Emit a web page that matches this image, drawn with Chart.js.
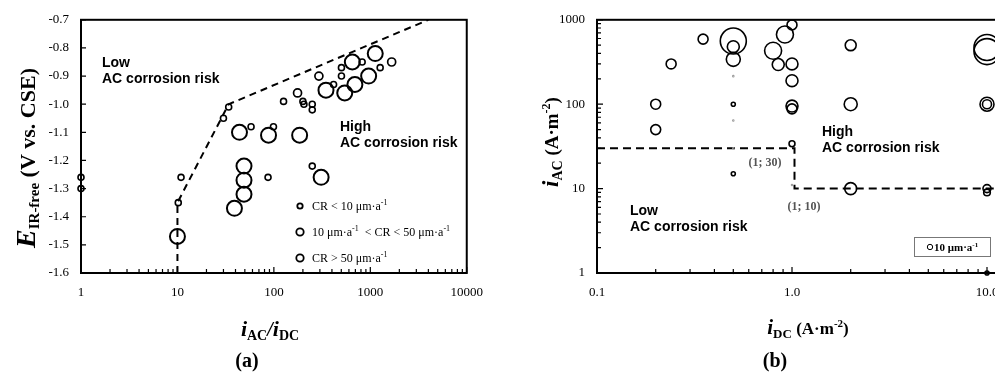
<!DOCTYPE html>
<html>
<head>
<meta charset="utf-8">
<script src="https://cdn.jsdelivr.net/npm/chart.js@4.4.1/dist/chart.umd.min.js"></script>
<style>
  html, body { margin: 0; padding: 0; background: #fff; overflow: hidden; }
  body { width: 995px; height: 379px; position: relative; }
  #left { position: absolute; left: 0; top: 0; }
  #right { position: absolute; left: 495px; top: 0; }
</style>
</head>
<body>
<canvas id="left" width="495" height="379"></canvas>
<canvas id="right" width="720" height="379"></canvas>
<script>
// (a) IR-free potential vs iAC/iDC ratio, split by corrosion rate class
const ratioLow = [1, 1, 10.9, 10.2, 30, 34, 58, 99, 87, 126, 200, 205, 250, 250, 250, 416, 502, 502, 823, 1265];
const potLow = [-1.26, -1.30, -1.26, -1.35, -1.05, -1.01, -1.08, -1.08, -1.26, -0.99, -0.99, -1.00, -1.00, -1.02, -1.22, -0.93, -0.87, -0.90, -0.85, -0.87];
const ratioMid = [176, 293, 1665];
const potMid = [-0.96, -0.90, -0.85];
const ratioHigh = [10, 39, 44, 49, 49, 49, 88, 185, 309, 347, 543, 651, 692, 961, 1125];
const potHigh = [-1.47, -1.37, -1.10, -1.22, -1.27, -1.32, -1.11, -1.11, -1.26, -0.95, -0.96, -0.85, -0.93, -0.90, -0.82];
const limitRatio = [10, 10, 34, 4000];
const limitPot = [-1.6, -1.35, -1.0, -0.7];
const ratioTicks = [1, 10, 100, 1000, 10000];
const potTicks = [-0.7, -0.8, -0.9, -1.0, -1.1, -1.2, -1.3, -1.4, -1.5, -1.6];

// (b) iAC vs iDC, bubble size from corrosion rate (um/a)
const dcCurrent = [0.24, 0.35, 0.2, 0.2, 0.5, 0.5, 0.5, 0.5, 0.5, 0.5, 0.5, 0.5, 0.5, 0.8, 0.85, 0.92, 1.0, 1.0, 1.0, 1.0, 1.0, 1.0, 1.0, 2.0, 2.0, 2.0, 10, 10, 10, 10, 10, 10, 10];
const acCurrent = [300, 590, 100, 50, 560, 480, 340, 215, 100, 64, 30, 15, 1, 430, 295, 670, 870, 300, 190, 95, 88, 34, 11, 500, 100, 10, 470, 420, 100, 100, 10, 9, 1];
const corrRate = [34, 34, 34, 34, 232, 49, 67, 0.3, 5.5, 0.3, 0.3, 5.5, 0.3, 99, 49, 99, 34, 49, 49, 49, 34, 12, 0.3, 41, 58, 49, 232, 232, 67, 28, 22, 15, 5.5];
const limitDc = [0.1, 1.03, 1.03, 100];
const limitAc = [30, 30, 10, 10];
const dcTicks = [0.1, 1, 10, 100];
const acTicks = [1, 10, 100, 1000];

const SERIF = "'Liberation Serif', 'Times New Roman', serif";
const SANS = "'Liberation Sans', Arial, sans-serif";

function crToRadius(cr) {
    return 2.7 * Math.sqrt(cr / 10);
}

function pts(xs, ys) {
    return xs.map((x, i) => ({ x: x, y: ys[i] }));
}

// draw a run of text pieces (sub/superscripts via dy), centred or left aligned
function rich(ctx, parts, x, y, opts) {
    opts = opts || {};
    ctx.save();
    ctx.translate(x, y);
    if (opts.rotate) ctx.rotate(-Math.PI / 2);
    ctx.textBaseline = 'alphabetic';
    ctx.textAlign = 'left';
    ctx.fillStyle = opts.color || '#000';
    let w = 0;
    parts.forEach(p => { ctx.font = p.f; w += ctx.measureText(p.t).width; });
    let px = opts.left ? 0 : -w / 2;
    parts.forEach(p => {
        ctx.font = p.f;
        ctx.fillText(p.t, px, p.dy || 0);
        px += ctx.measureText(p.t).width;
    });
    ctx.restore();
}

function logMinor(scale, cb) {
    let d = Math.pow(10, Math.floor(Math.log10(scale.min)));
    for (; d < scale.max; d *= 10) {
        for (let k = 2; k <= 9; k++) {
            const v = k * d;
            if (v > scale.min && v < scale.max) cb(scale.getPixelForValue(v));
        }
    }
}

function logScale(min, max, tickVals, fmt, extra) {
    return Object.assign({
        type: 'logarithmic',
        min: min,
        max: max,
        grid: { display: false, drawTicks: false },
        border: { display: false },
        afterBuildTicks: s => { s.ticks = tickVals.map(v => ({ value: v })); },
        ticks: {
            autoSkip: false, maxRotation: 0, padding: 12, color: '#000',
            font: { family: SERIF, size: 13 },
            callback: fmt
        }
    }, extra || {});
}

// ---------- panel (a) ----------
const leftDecor = {
    id: 'leftDecor',
    afterDraw(chart) {
        const ctx = chart.ctx, a = chart.chartArea, xs = chart.scales.x, ys = chart.scales.y;
        ctx.save();
        ctx.strokeStyle = '#000';
        ctx.lineWidth = 1.2;
        ctx.beginPath();
        logMinor(xs, px => { ctx.moveTo(px, a.bottom); ctx.lineTo(px, a.bottom - 4); });
        ratioTicks.forEach(v => { const px = xs.getPixelForValue(v); ctx.moveTo(px, a.bottom); ctx.lineTo(px, a.bottom - 6); });
        potTicks.forEach(v => { const py = ys.getPixelForValue(v); ctx.moveTo(a.left, py); ctx.lineTo(a.left + 5, py); });
        ctx.stroke();
        ctx.lineWidth = 2;
        ctx.strokeRect(a.left, a.top, a.right - a.left, a.bottom - a.top);

        // legend
        const leg = [
            { r: 2.7, y: 206, parts: [{ t: 'CR < 10 μm·a', f: '12px ' + SERIF }, { t: '-1', f: '8px ' + SERIF, dy: -5 }] },
            { r: 3.7, y: 232, parts: [{ t: '10 μm·a', f: '12px ' + SERIF }, { t: '-1', f: '8px ' + SERIF, dy: -5 },
                                      { t: '  < CR < 50 μm·a', f: '12px ' + SERIF }, { t: '-1', f: '8px ' + SERIF, dy: -5 }] },
            { r: 3.7, y: 258, parts: [{ t: 'CR > 50 μm·a', f: '12px ' + SERIF }, { t: '-1', f: '8px ' + SERIF, dy: -5 }] }
        ];
        ctx.lineWidth = 1.8;
        leg.forEach(e => {
            ctx.beginPath();
            ctx.arc(300, e.y, e.r, 0, Math.PI * 2);
            ctx.stroke();
            rich(ctx, e.parts, 312, e.y + 4, { left: true });
        });
        ctx.restore();

        const lab = 'bold 14px ' + SANS;
        rich(ctx, [{ t: 'Low', f: lab }], 102, 67, { left: true });
        rich(ctx, [{ t: 'AC corrosion risk', f: lab }], 102, 83, { left: true });
        rich(ctx, [{ t: 'High', f: lab }], 340, 131, { left: true });
        rich(ctx, [{ t: 'AC corrosion risk', f: lab }], 340, 147, { left: true });

        // axis titles
        rich(ctx, [
            { t: 'E', f: 'italic bold 28px ' + SERIF },
            { t: 'IR-free', f: 'bold 15px ' + SERIF, dy: 4 },
            { t: ' (V vs. CSE)', f: 'bold 22px ' + SERIF }
        ], 35, 158, { rotate: true });
        rich(ctx, [
            { t: 'i', f: 'italic bold 22px ' + SERIF },
            { t: 'AC', f: 'bold 14px ' + SERIF, dy: 4 },
            { t: '/', f: 'italic bold 20px ' + SERIF },
            { t: 'i', f: 'italic bold 22px ' + SERIF },
            { t: 'DC', f: 'bold 14px ' + SERIF, dy: 4 }
        ], 270, 336);
        rich(ctx, [{ t: '(a)', f: 'bold 20px ' + SERIF }], 247, 367);
    }
};

new Chart(document.getElementById('left'), {
    type: 'scatter',
    data: {
        datasets: [
            { data: pts(ratioLow, potLow), clip: false, pointRadius: 3, pointBorderWidth: 1.6, borderColor: '#000', backgroundColor: 'rgba(0,0,0,0)' },
            { data: pts(ratioMid, potMid), clip: false, pointRadius: 4, pointBorderWidth: 1.7, borderColor: '#000', backgroundColor: 'rgba(0,0,0,0)' },
            { data: pts(ratioHigh, potHigh), clip: false, pointRadius: 7.5, pointBorderWidth: 2, borderColor: '#000', backgroundColor: 'rgba(0,0,0,0)' },
            { data: pts(limitRatio, limitPot), showLine: true, pointRadius: 0, borderColor: '#000', borderWidth: 2, borderDash: [7, 5] }
        ]
    },
    options: {
        responsive: false,
        animation: false,
        events: [],
        layout: { padding: { top: 14, right: 22, left: 0, bottom: 0 } },
        plugins: { legend: { display: false }, tooltip: { enabled: false } },
        scales: {
            x: logScale(1, 10000, ratioTicks, v => String(v), { afterFit: s => { s.height = 106; } }),
            y: {
                type: 'linear', min: -1.6, max: -0.7,
                grid: { display: false, drawTicks: false },
                border: { display: false },
                afterBuildTicks: s => { s.ticks = potTicks.map(v => ({ value: v })); },
                afterFit: s => { s.width = 81; },
                ticks: { padding: 12, color: '#000', font: { family: SERIF, size: 13 }, callback: v => v.toFixed(1) }
            }
        }
    },
    plugins: [leftDecor]
});

// ---------- panel (b) ----------
const OX = 495; // page offset of the right canvas
const rightDecor = {
    id: 'rightDecor',
    afterDraw(chart) {
        const ctx = chart.ctx, a = chart.chartArea, xs = chart.scales.x, ys = chart.scales.y;
        ctx.save();
        ctx.strokeStyle = '#000';
        ctx.lineWidth = 1.2;
        ctx.beginPath();
        logMinor(xs, px => { ctx.moveTo(px, a.bottom); ctx.lineTo(px, a.bottom - 4); });
        dcTicks.forEach(v => { const px = xs.getPixelForValue(v); ctx.moveTo(px, a.bottom); ctx.lineTo(px, a.bottom - 6); });
        logMinor(ys, py => { ctx.moveTo(a.left, py); ctx.lineTo(a.left + 4, py); });
        acTicks.forEach(v => { const py = ys.getPixelForValue(v); ctx.moveTo(a.left, py); ctx.lineTo(a.left + 6, py); });
        ctx.stroke();
        ctx.lineWidth = 2;
        ctx.strokeRect(a.left, a.top, a.right - a.left, a.bottom - a.top);

        // size key
        ctx.strokeStyle = '#777';
        ctx.lineWidth = 1;
        ctx.strokeRect(914.5 - OX, 237.5, 76, 19);
        ctx.strokeStyle = '#000';
        ctx.beginPath();
        ctx.arc(930 - OX, 247, crToRadius(10), 0, Math.PI * 2);
        ctx.stroke();
        ctx.restore();
        rich(ctx, [{ t: '10 μm·a', f: 'bold 11px ' + SERIF }, { t: '-1', f: 'bold 7px ' + SERIF, dy: -4 }], 934 - OX, 251, { left: true });

        const lab = 'bold 14px ' + SANS;
        rich(ctx, [{ t: 'High', f: lab }], 822 - OX, 136, { left: true });
        rich(ctx, [{ t: 'AC corrosion risk', f: lab }], 822 - OX, 152, { left: true });
        rich(ctx, [{ t: 'Low', f: lab }], 630 - OX, 215, { left: true });
        rich(ctx, [{ t: 'AC corrosion risk', f: lab }], 630 - OX, 231, { left: true });
        const pf = 'bold 12px ' + SERIF;
        rich(ctx, [{ t: '(1; 30)', f: pf }], 765 - OX, 166, { color: '#555' });
        rich(ctx, [{ t: '(1; 10)', f: pf }], 804 - OX, 210, { color: '#555' });

        rich(ctx, [
            { t: 'i', f: 'italic bold 23px ' + SERIF },
            { t: 'AC', f: 'bold 14px ' + SERIF, dy: 4 },
            { t: ' (A·m', f: 'bold 19px ' + SERIF },
            { t: '-2', f: 'bold 12px ' + SERIF, dy: -8 },
            { t: ')', f: 'bold 19px ' + SERIF }
        ], 558 - OX, 142, { rotate: true });
        rich(ctx, [
            { t: 'i', f: 'italic bold 21px ' + SERIF },
            { t: 'DC', f: 'bold 13px ' + SERIF, dy: 4 },
            { t: ' (A·m', f: 'bold 17px ' + SERIF },
            { t: '-2', f: 'bold 11px ' + SERIF, dy: -7 },
            { t: ')', f: 'bold 17px ' + SERIF }
        ], 808 - OX, 334);
        rich(ctx, [{ t: '(b)', f: 'bold 20px ' + SERIF }], 775 - OX, 367);
    }
};

new Chart(document.getElementById('right'), {
    type: 'bubble',
    data: {
        datasets: [
            {
                data: dcCurrent.map((x, i) => ({ x: x, y: acCurrent[i], r: crToRadius(corrRate[i]) })),
                clip: false,
                borderWidth: 1.6,
                borderColor: ctx => (corrRate[ctx.dataIndex] < 1 ? '#999' : '#000'),
                backgroundColor: 'rgba(0,0,0,0)'
            },
            {
                type: 'line',
                data: pts(limitDc, limitAc),
                pointRadius: 0, borderColor: '#000', borderWidth: 2, borderDash: [8, 5], fill: false
            }
        ]
    },
    options: {
        responsive: false,
        animation: false,
        events: [],
        layout: { padding: { top: 14, right: 33, left: 0, bottom: 0 } },
        plugins: { legend: { display: false }, tooltip: { enabled: false } },
        scales: {
            x: logScale(0.1, 100, dcTicks, v => v.toFixed(1), { afterFit: s => { s.height = 106; } }),
            y: logScale(1, 1000, acTicks, v => String(v), { afterFit: s => { s.width = 102; } })
        }
    },
    plugins: [rightDecor]
});
</script>
</body>
</html>
